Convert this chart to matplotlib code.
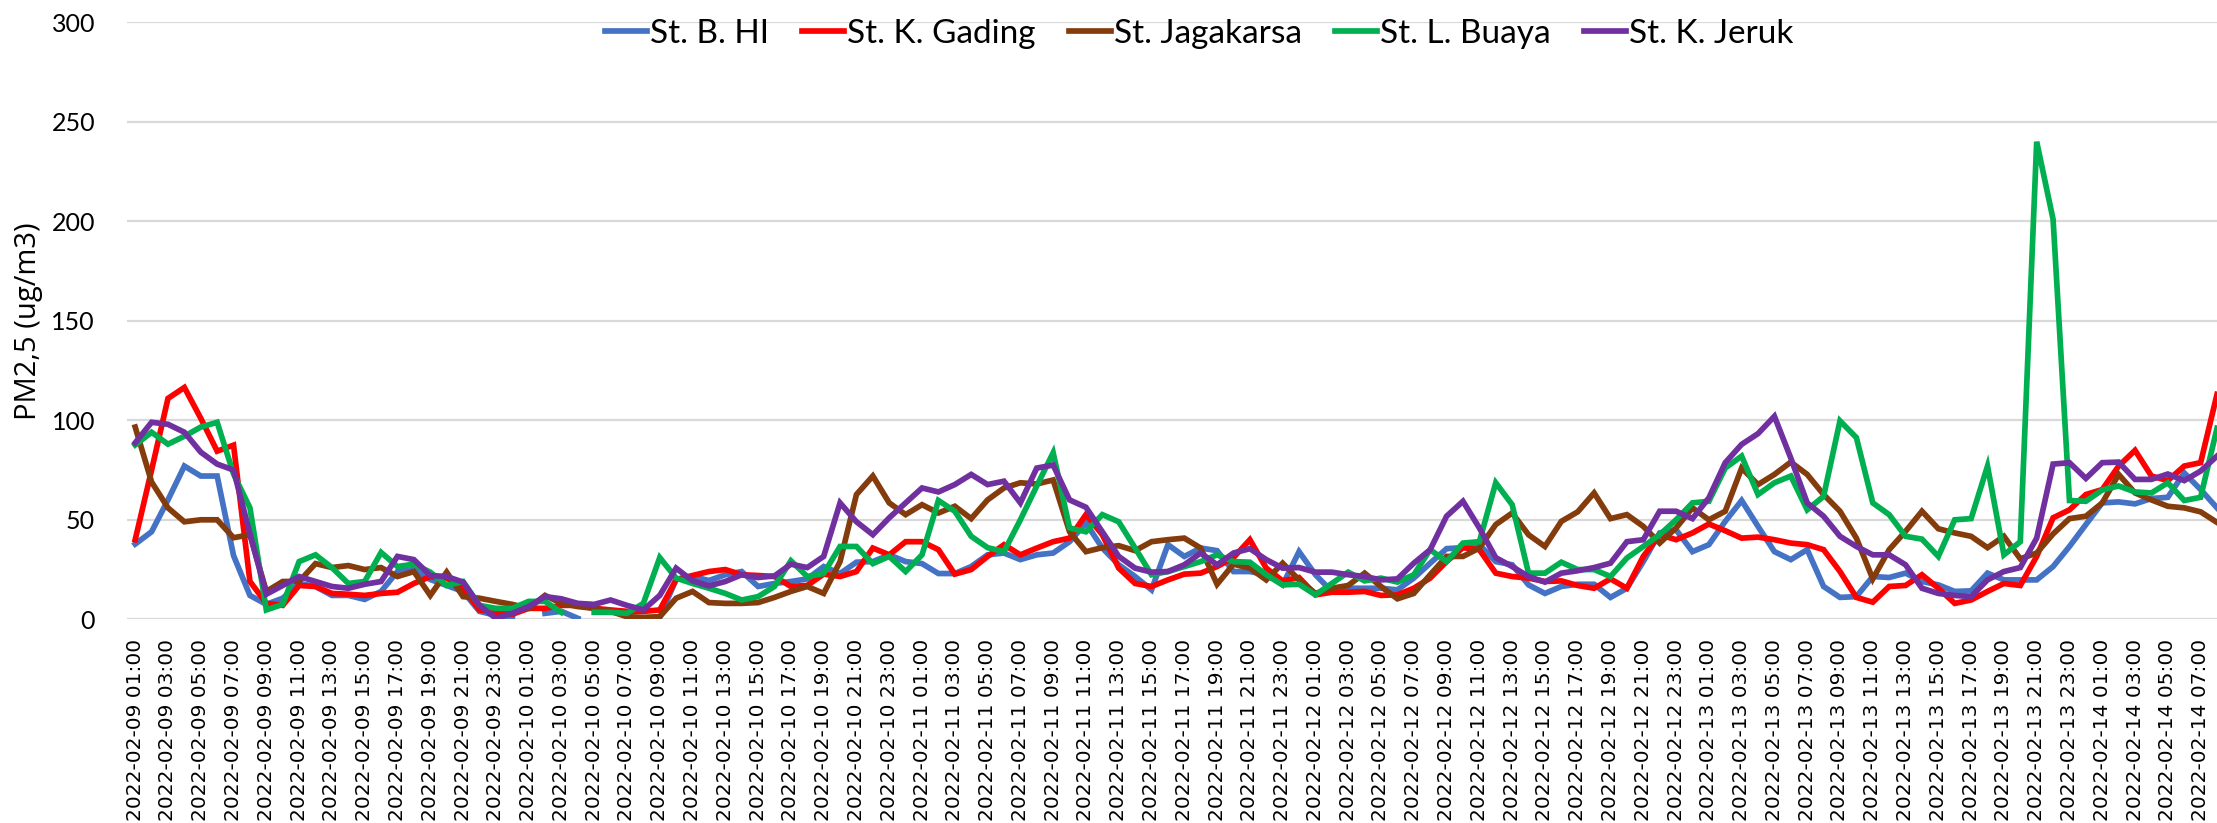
import numpy as np
import pandas as pd
from matplotlib import pyplot as plt

nan = np.nan

# jam pengukuran (sumbu kategori, per jam)
times = pd.date_range("2022-02-09 01:00", periods=128, freq="h")
tick_labels = [t.strftime("%Y-%m-%d %H:%M") for t in times]

stations = ["St. B. HI", "St. K. Gading", "St. Jagakarsa", "St. L. Buaya", "St. K. Jeruk"]
colors = ["#4472C4", "#FF0000", "#843C0C", "#00B050", "#7030A0"]

b_hi = [37.8, 44, 60, 77, 72, 72, 32, 12, 7.5, 10.6, 18, 16.5, 12, 12, 10, 14, 24, 25,
        20, 17, 14, 4, 2, 0.5, nan, 3, 4, 0.5, nan, nan, nan, nan, 1, 20, 21.5, 19.5,
        22.4, 24, 16.5, 18, 19, 20.3, 26.5, 23, 28.7, 29, 32.4, 29, 28, 23, 23, 26.5, 32.4, 33.3,
        30, 32.4, 33.3, 39, 48.4, 35.8, 27.4, 21.5, 14.8, 37.5, 31.6, 35.8, 34.5, 24, 24, 22.4, 17.3, 34,
        22.4, 14, 15.6, 15.6, 15.6, 14.8, 20.7, 28.2, 35.5, 36, 37.5, 29, 27.4, 17.3, 13, 16.5, 17.6, 17.6,
        11, 15.6, 29, 43.4, 45, 34, 37.5, 49.2, 59.7, 46.7, 34, 30, 35, 16.5, 11, 11.4, 21.5, 21,
        23.2, 19, 17.3, 14, 14.3, 23.2, 19.8, 19.8, 19.8, 26.5, 36.6, 47.6, 58.5, 59, 58, 60.7, 61.3, 73.6, 65.2, 56]

k_gading = [40, 75, 111, 116.5, 101, 84.5, 87.5, 19, 8, 7, 17, 16.5, 13, 12.6, 12, 13, 13.6, 18,
            21.5, 20.7, 15.6, 4.7, 3.5, 2.5, 5.5, 5.5, 7, 7, 5.5, 4.7, 4, 4, 4.7, 20, 22, 24,
            25, 22.4, 22, 21.5, 16.5, 17, 22.7, 21.5, 24, 35.8, 32.4, 39, 39, 35, 22.7, 25, 31.6, 37.5,
            32.4, 35.8, 39, 40.8, 52.6, 42.5, 25.7, 18, 16.5, 19.8, 22.7, 23.2, 26.5, 31, 40, 25.7, 19.3, 21,
            12.3, 13.6, 13.6, 14, 12, 12.3, 15.6, 20.7, 29, 36, 35, 23.2, 21.5, 20.7, 19, 19.3, 17, 15.6,
            20.3, 15.6, 31.6, 42.5, 40, 43.4, 47.9, 44.5, 40.8, 41.3, 40, 38.3, 37.5, 35, 24, 11, 8.6, 16.5,
            17, 22.4, 15.6, 8, 9.7, 14, 18, 17, 31.6, 51, 55, 62.7, 65.2, 77, 84.9, 72, 69.7, 77, 78.7, 113]

jagakarsa = [96.6, 69, 56, 49, 50, 50, 41, 42.5, 14, 19, 19, 28, 26, 27, 25, 26, 21.5, 24,
             12, 23.7, 11.4, 10.6, 9, 7.5, 5.5, 12, 8, 6.4, 5.5, 4, 1.3, 1, 1.3, 10.6, 14, 8.4,
             8, 8, 8.4, 11, 14, 16.5, 13, 29, 62.7, 72, 58.5, 52.6, 57.6, 53.4, 56.8, 50.6, 60, 66,
             68.6, 68, 70, 44, 34, 36, 37, 34.5, 39, 40, 40.8, 35.8, 17.6, 27.7, 25.7, 19.8, 28.2, 19.8,
             13, 15.6, 17, 23.2, 16.5, 10.3, 13, 22.4, 31.6, 31.6, 35.8, 47.6, 53.4, 42.5, 36.6, 49.2, 54, 63.5,
             50.6, 52.6, 46.7, 38.3, 45.9, 56, 50, 54.3, 76, 67.7, 72.8, 79, 72.8, 62.7, 54.3, 40.8, 20.3, 35,
             44.2, 54.3, 45.5, 43.4, 41.7, 36, 41.7, 30.4, 33.3, 42.9, 50.6, 51.8, 58.5, 72.8, 63.5, 60, 56.8, 56, 54, 48.7]

l_buaya = [87.6, 94, 88, 92, 96.6, 99, 73, 56, 4.7, 7.5, 29, 32.4, 26, 18, 19, 33.6, 26.5, 27.7,
           23.7, 17, 19, 7, 5.5, 5.5, 9, 9, 3.5, nan, 3.5, 3.5, 3, 8, 31, 20.7, 18, 15.6,
           13, 9.7, 11.4, 16.5, 29.4, 21.5, 23, 36.6, 36.6, 28, 31.6, 24, 32.4, 59.7, 54.3, 41.7, 36, 34,
           50, 67, 83.7, 45.9, 44, 52.6, 49, 35.8, 22.4, 24, 26.5, 29, 32.4, 29, 28.7, 22.4, 17.3, 17.6,
           12.3, 18, 23.7, 19.3, 20.7, 18.7, 22.4, 35, 29, 38.3, 39, 68.6, 57.6, 23.2, 23.2, 28.7, 25, 25,
           21.5, 30.8, 36.6, 42.5, 50, 58.5, 59.3, 76, 82, 62.7, 68.6, 72, 55, 61.8, 99.7, 91.3, 58.5, 52.6,
           41.7, 40.3, 31.6, 50, 50.6, 77, 32.4, 39, 240, 201, 59.7, 59.3, 65, 67, 64, 63.5, 68.6, 59.7, 61.3, 96]

k_jeruk = [88.7, 99, 98, 94, 84, 78, 75, 43, 12.6, 17, 21.5, 19, 16.5, 15.6, 17.6, 19, 31.6, 30,
           22, 21.5, 18.7, 7, 0.5, 3, 6.4, 11.4, 10.3, 8, 7.5, 9.7, 7, 4.7, 12, 25.7, 19.3, 16.8,
           19, 22.4, 21, 21.8, 27.7, 26, 31.6, 58.5, 49, 42.5, 51, 58.5, 66, 64, 67.7, 72.8, 67.7, 69.4,
           58.5, 76, 77.5, 60, 56.3, 44, 31.6, 25.7, 23.7, 24, 27.4, 33.3, 27.4, 33.3, 35.5, 30, 25.7, 26,
           23.7, 23.7, 22.4, 21.5, 19.8, 20.3, 28.2, 35, 51.8, 59.3, 45.9, 31, 26.5, 21.5, 18.7, 23.2, 24.4, 26,
           28.2, 39, 40, 54.3, 54.3, 50.6, 61, 78.7, 87.9, 93.3, 102, 81, 58.5, 51.8, 41.7, 36.6, 32.4, 32.4,
           27.4, 15.6, 13, 12, 11.4, 19.8, 24, 26, 40.8, 78, 78.7, 70.8, 78.7, 79, 70.3, 70.3, 73, 69.7, 74.5, 82]

series = [b_hi, k_gading, jagakarsa, l_buaya, k_jeruk]

W, H = 2217, 823
fig = plt.figure(figsize=(W / 100, H / 100), dpi=100)
ax = fig.add_axes([127 / W, 203.7 / H, 2090 / W, 597 / H])

x = np.arange(len(times))
for name, vals, c in zip(stations, series, colors):
    ax.plot(x, vals, color=c, linewidth=4.1, label=name, solid_joinstyle='miter')

ax.set_xlim(-0.5, len(times) - 1)
ax.set_ylim(0, 300)
ax.set_yticks(range(0, 301, 50))
ax.yaxis.grid(True, color='#D9D9D9', linewidth=1.6)
ax.set_axisbelow(True)
for s in ax.spines.values():
    s.set_visible(False)

ax.set_xticks(x[::2])
ax.set_xticklabels(tick_labels[::2], rotation=90, family='DejaVu Sans', fontsize=14.5)
ax.tick_params(axis='x', length=0, pad=14)
ax.tick_params(axis='y', length=0, pad=23)
for t in ax.get_yticklabels():
    t.set_family('Lato')
    t.set_fontsize(18)

ax.set_ylabel('PM2,5 (ug/m3)', family='Open Sans', fontsize=21)
ax.yaxis.set_label_coords(-0.040, 0.5)

fig.legend(loc='center', bbox_to_anchor=(0.541, 1 - 34 / H), ncol=5, frameon=False,
           prop={'family': 'Lato', 'size': 24}, handlelength=1.25, handletextpad=0.1,
           columnspacing=1.0)

plt.savefig('out.png', dpi=100)
